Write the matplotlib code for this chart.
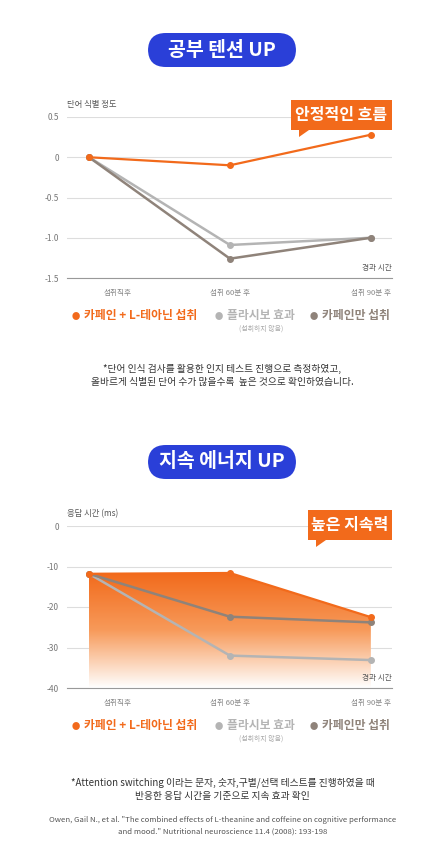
import numpy as np
import matplotlib
matplotlib.use('Agg')
import matplotlib.pyplot as plt
from matplotlib.patches import FancyBboxPatch, Polygon
from matplotlib.colors import LinearSegmentedColormap

plt.rcParams['font.family'] = ['Noto Sans CJK KR', 'DejaVu Sans']

# data
times = ['섭취직후', '섭취 60분 후', '섭취 90분 후']
acc_theanine = [0, -0.1, 0.28]
acc_placebo = [0, -1.09, -1.0]
acc_caffeine = [0, -1.26, -1.0]
rt_theanine = [-11.8, -11.6, -22.5]
rt_caffeine = [-11.8, -22.4, -23.8]
rt_placebo = [-11.8, -32.0, -33.1]

ORANGE = '#f26a1b'
LGRAY = '#b4b4b4'
DGRAY = '#8f837a'
BLUE = '#2a3fd8'

W, H = 445, 865
fig = plt.figure(figsize=(W/100, H/100), dpi=100)
fig.patch.set_facecolor('white')

def fx(px): return px / W
def fy(py): return 1 - py / H

def pill(text, cy):
    w, h = 148, 34
    p = FancyBboxPatch((fx(222 - w/2), fy(cy + h/2)), fx(w), h/H,
                       boxstyle='round,pad=0,rounding_size=0.04',
                       transform=fig.transFigure, fc=BLUE, ec='none',
                       mutation_aspect=W/H)
    fig.patches.append(p)
    fig.text(fx(222), fy(cy), text, color='white', fontsize=14,
             fontweight='bold', ha='center', va='center')

def callout(text, x0, x1, y0, y1):
    fig.patches.append(plt.Rectangle((fx(x0), fy(y1)), fx(x1 - x0), (y1 - y0)/H,
                                     transform=fig.transFigure, fc=ORANGE, ec='none'))
    fig.patches.append(Polygon([(fx(x0 + 8), fy(y1)), (fx(x0 + 18), fy(y1)),
                                (fx(x0 + 8), fy(y1 + 7))], closed=True,
                               transform=fig.transFigure, fc=ORANGE, ec='none'))
    fig.text(fx((x0 + x1)/2), fy((y0 + y1)/2), text, color='white', fontsize=11.5,
             fontweight='bold', ha='center', va='center')

def setup(ax, ylim, yticks, ylabels, ylabel):
    ax.set_xlim(-0.156, 2.15)
    ax.set_ylim(*ylim)
    ax.set_yticks(yticks)
    ax.set_yticklabels(ylabels, fontsize=6, color='#777777')
    ax.set_xticks([0.2, 1, 2])
    ax.set_xticklabels(times, fontsize=5.5, color='#888888')
    ax.tick_params(length=0, pad=6)
    ax.tick_params(axis='x', pad=8)
    ax.grid(axis='y', color='#dddddd', lw=0.8)
    ax.set_axisbelow(True)
    for s in ['top', 'right', 'left']:
        ax.spines[s].set_visible(False)
    ax.spines['bottom'].set_color('#999999')
    ax.text(0.0, 1.06, ylabel, transform=ax.transAxes, fontsize=6, color='#555555')
    ax.text(1.0, 0.05, '경과 시간', transform=ax.transAxes, fontsize=5.5,
            color='#555555', ha='right')

def legend(cy):
    items = [(84, '카페인 + L-테아닌 섭취', ORANGE), (227, '플라시보 효과', LGRAY),
             (322, '카페인만 섭취', DGRAY)]
    for x, t, c in items:
        fig.text(fx(x - 12), fy(cy), '●', color=c, fontsize=6, ha='left', va='center')
        fig.text(fx(x), fy(cy), t, color=c, fontsize=8.5, fontweight='bold',
                 ha='left', va='center')
    fig.text(fx(261), fy(cy + 13), '(섭취하지 않음)', color='#aaaaaa', fontsize=5,
             ha='center', va='center')

x = np.arange(3)

# chart 1
pill('공부 텐션 UP', 50)
ax1 = fig.add_axes([fx(67), fy(278), fx(325), 161/H])
setup(ax1, (-1.5, 0.5), [0.5, 0, -0.5, -1.0, -1.5],
      ['0.5', '0', '-0.5', '-1.0', '-1.5'], '단어 식별 정도')
ax1.plot(x, acc_placebo, color=LGRAY, lw=1.8, marker='o', ms=4)
ax1.plot(x, acc_caffeine, color=DGRAY, lw=1.8, marker='o', ms=4)
ax1.plot(x, acc_theanine, color=ORANGE, lw=1.6, marker='o', ms=4)
callout('안정적인 흐름', 291, 392, 100, 130)
legend(316)
fig.text(0.5, fy(369), '*단어 인식 검사를 활용한 인지 테스트 진행으로 측정하였고,',
         ha='center', va='center', fontsize=7, color='#333333')
fig.text(0.5, fy(382), '올바르게 식별된 단어 수가 많을수록  높은 것으로 확인하였습니다.',
         ha='center', va='center', fontsize=7, color='#333333')

# chart 2
pill('지속 에너지 UP', 462)
ax2 = fig.add_axes([fx(67), fy(688), fx(325), 162/H])
setup(ax2, (-40, 0), [0, -10, -20, -30, -40],
      ['0', '-10', '-20', '-30', '-40'], '응답 시간 (ms)')
cmap = LinearSegmentedColormap.from_list('g', ['#ffffff', '#f79a5a', ORANGE])
grad = np.linspace(0, 1, 256).reshape(-1, 1)
im = ax2.imshow(grad, cmap=cmap, extent=[0, 2, -40, -11.6], origin='lower',
                aspect='auto', zorder=1)
poly = Polygon(list(zip(x, rt_theanine)) + [(2, -40), (0, -40)], closed=True,
               transform=ax2.transData, fc='none', ec='none')
ax2.add_patch(poly)
im.set_clip_path(poly)
ax2.set_xlim(-0.156, 2.15)
ax2.plot(x, rt_placebo, color=LGRAY, lw=1.8, marker='o', ms=4, zorder=3)
ax2.plot(x, rt_caffeine, color=DGRAY, lw=1.8, marker='o', ms=4, zorder=3)
ax2.plot(x, rt_theanine, color=ORANGE, lw=1.6, marker='o', ms=4, zorder=4)
callout('높은 지속력', 308, 392, 510, 540)
legend(726)
fig.text(0.5, fy(783), '*Attention switching 이라는 문자, 숫자,구별/선택 테스트를 진행하였을 때',
         ha='center', va='center', fontsize=7, color='#333333')
fig.text(0.5, fy(796), '반응한 응답 시간을 기준으로 지속 효과 확인',
         ha='center', va='center', fontsize=7, color='#333333')
fig.text(0.5, fy(820), 'Owen, Gail N., et al. "The combined effects of L-theanine and coffeine on cognitive performance',
         ha='center', va='center', fontsize=5.6, color='#555555')
fig.text(0.5, fy(832), 'and mood." Nutritional neuroscience 11.4 (2008): 193-198',
         ha='center', va='center', fontsize=5.6, color='#555555')

fig.savefig('out.png', dpi=100)
